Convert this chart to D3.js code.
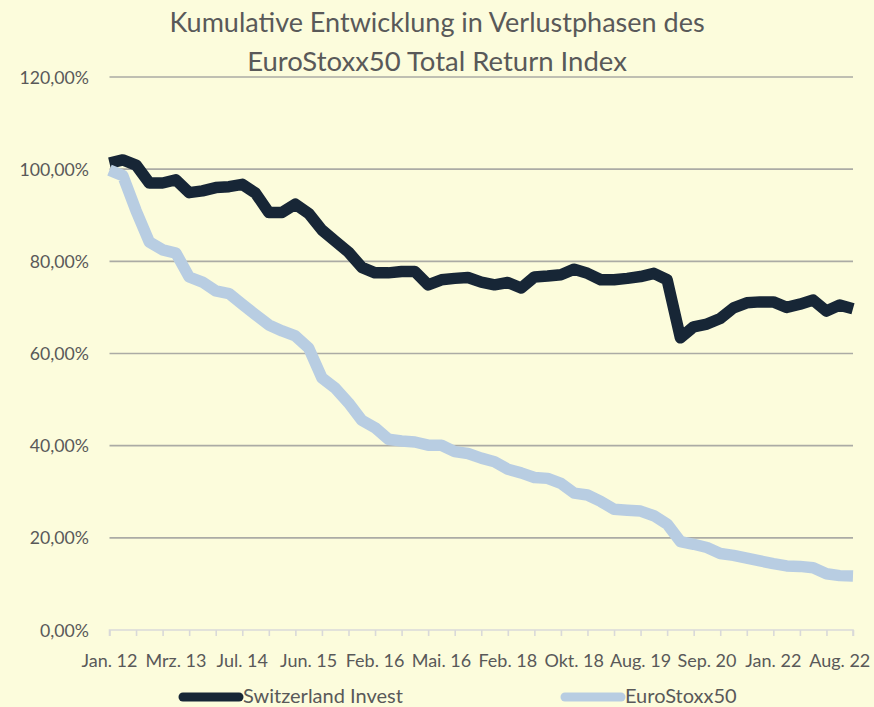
<!DOCTYPE html>
<html>
<head>
<meta charset="utf-8">
<script src="https://cdn.jsdelivr.net/npm/d3@7"></script>
<style>
  html, body { margin: 0; padding: 0; background: #FCFCDC; }
  svg { display: block; }
  text { font-family: Lato, "Open Sans", sans-serif; fill: #595959; }
</style>
</head>
<body>
<svg id="chart" width="874" height="707"></svg>
<script>
// ---- data ----
const titleLines = ["Kumulative Entwicklung in Verlustphasen des", "EuroStoxx50 Total Return Index"];
const seriesNames = ["Switzerland Invest", "EuroStoxx50"];
const tickLabels = ["Jan. 12", "Mrz. 13", "Jul. 14", "Jun. 15", "Feb. 16", "Mai. 16",
                    "Feb. 18", "Okt. 18", "Aug. 19", "Sep. 20", "Jan. 22", "Aug. 22"];
const yTicks = [0, 20, 40, 60, 80, 100, 120];
const switzerlandInvest = [
  101.3, 102.0, 100.9, 97.0, 97.0, 97.7, 94.9, 95.3, 96.0, 96.2,
  96.7, 94.8, 90.6, 90.6, 92.4, 90.4, 86.8, 84.4, 82.0, 78.7,
  77.5, 77.5, 77.8, 77.8, 74.9, 76.0, 76.3, 76.5, 75.5, 74.9,
  75.4, 74.2, 76.6, 76.8, 77.1, 78.3, 77.4, 76.0, 76.0, 76.3,
  76.7, 77.4, 76.0, 63.4, 65.8, 66.4, 67.6, 69.9, 71.0, 71.2,
  71.2, 70.0, 70.7, 71.6, 69.2, 70.5, 69.7
];
const euroStoxx50 = [
  99.8, 98.6, 91.0, 84.2, 82.5, 81.8, 76.6, 75.5, 73.6, 73.0,
  70.7, 68.4, 66.2, 64.9, 63.8, 61.2, 54.7, 52.5, 49.3, 45.5,
  43.9, 41.4, 41.0, 40.8, 40.1, 40.1, 38.7, 38.3, 37.3, 36.5,
  34.9, 34.1, 33.1, 32.9, 31.8, 29.7, 29.3, 27.9, 26.2, 26.0,
  25.8, 24.8, 23.0, 19.2, 18.6, 17.9, 16.6, 16.2, 15.6, 15.0,
  14.4, 13.9, 13.8, 13.5, 12.2, 11.8, 11.7
];
const labelEvery = 5;
const tickEvery = 2;
const colors = ["#172636", "#B8CDE2"];

// ---- chart ----
const svg = d3.select("#chart");
svg.append("rect").attr("width", 874).attr("height", 707).attr("fill", "#FCFCDC");

const n = switzerlandInvest.length;
const x = d3.scaleLinear().domain([0, n - 1]).range([109.5, 853]);
const y = d3.scaleLinear().domain([0, 120]).range([630, 77]);

// title
svg.append("g").selectAll("text").data(titleLines).join("text")
  .attr("x", 437).attr("y", (d, i) => 32 + i * 38.5)
  .attr("text-anchor", "middle")
  .style("font-size", (d, i) => i === 0 ? "27px" : "27.5px")
  .text(d => d);

// gridlines
svg.append("g").selectAll("line").data(yTicks.filter(t => t > 0)).join("line")
  .attr("x1", 109.5).attr("x2", 853)
  .attr("y1", d => y(d)).attr("y2", d => y(d))
  .attr("stroke", "#ABABA5").attr("stroke-width", 1.6);

// y labels
svg.append("g").selectAll("text").data(yTicks).join("text")
  .attr("x", 89).attr("y", d => y(d) + 6.5)
  .attr("text-anchor", "end")
  .style("font-size", "17.7px")
  .text(d => d3.format(".2f")(d).replace(".", ",") + "%");

// x axis
const tickIdx = d3.range(0, n, tickEvery);
const xAxis = d3.axisBottom(x).tickValues(tickIdx).tickSize(6).tickFormat("");
const gx = svg.append("g").attr("transform", "translate(0,630)").call(xAxis);
gx.select(".domain").attr("stroke", "#D9D9D9").attr("stroke-width", 1.6).attr("d", `M${x(0)},6V0H${x(n-1)}V6`);
gx.selectAll(".tick line").attr("stroke", "#D9D9D9").attr("stroke-width", 1.6);

svg.append("g").selectAll("text").data(tickLabels).join("text")
  .attr("x", (d, i) => x(i * labelEvery))
  .attr("y", 667)
  .attr("text-anchor", "middle")
  .style("font-size", "18px")
  .text(d => d);

// lines
const line = d3.line().x((d, i) => x(i)).y(d => y(d));
[switzerlandInvest, euroStoxx50].forEach((s, k) => {
  svg.append("path").datum(s)
    .attr("d", line)
    .attr("fill", "none")
    .attr("stroke", colors[k])
    .attr("stroke-width", 11.5)
    .attr("stroke-linejoin", "round");
});

// legend
const legendX = [183, 565];
const lg = svg.append("g").selectAll("g").data(seriesNames).join("g")
  .attr("transform", (d, i) => `translate(${legendX[i]},697)`);
lg.append("line").attr("x1", 0).attr("x2", 56).attr("y1", 0).attr("y2", 0)
  .attr("stroke", (d, i) => colors[i]).attr("stroke-width", 9).attr("stroke-linecap", "round");
lg.append("text").attr("x", 60).attr("y", 6).style("font-size", "20px").text(d => d);
</script>
</body>
</html>
